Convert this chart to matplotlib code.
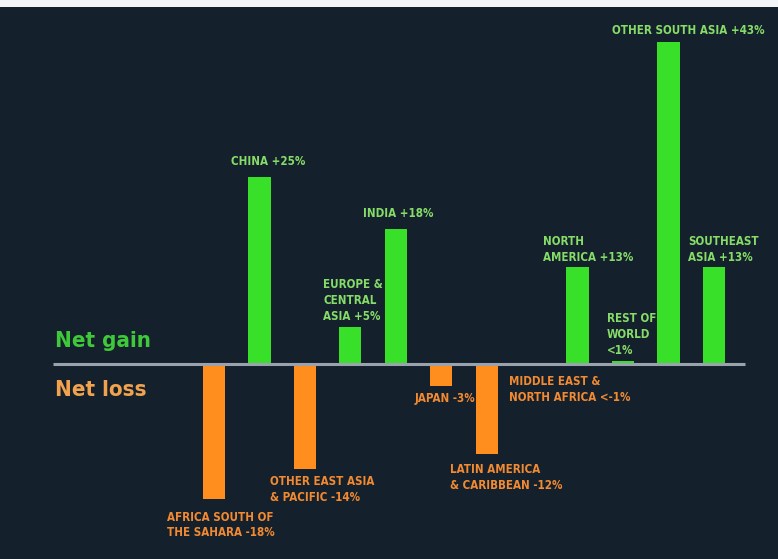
"""
Net change by region, drawn as diverging bars around a zero line
"""
import matplotlib.pyplot as plt
from matplotlib.patches import Rectangle

regions = ["AFRICA SOUTH OF\nTHE SAHARA -18%", "CHINA +25%", "OTHER EAST ASIA\n& PACIFIC -14%",
           "EUROPE &\nCENTRAL\nASIA +5%", "INDIA +18%", "JAPAN -3%",
           "LATIN AMERICA\n& CARIBBEAN -12%", "MIDDLE EAST &\nNORTH AFRICA <-1%",
           "NORTH\nAMERICA +13%", "REST OF\nWORLD\n<1%", "OTHER SOUTH ASIA +43%",
           "SOUTHEAST\nASIA +13%"]
change = [-18, 25, -14, 5, 18, -3, -12, -0.3, 13, 0.4, 43, 13]

# label placement: pixel offset from bar end, and horizontal alignment
label_dx = [-47, 9, -35, -27, 2, 4, -37, -23, -35, -16, 96, -26]
label_dy = [-12, 9, -6, 4, 9, -6, -9, -9, 3, 4, 5, 3]
label_ha = ["left", "center", "left", "left", "center", "center",
            "left", "left", "left", "left", "right", "left"]

BG = "#14202b"
GREEN = "#38e02a"
ORANGE = "#ff8e1e"
GREEN_TXT = "#86dc68"
ORANGE_TXT = "#f28a32"

plt.rcParams['font.family'] = ['DejaVu Sans']
plt.rcParams['font.stretch'] = 'condensed'

fig = plt.figure(figsize=(7.78, 5.59), dpi=100)
fig.patch.set_facecolor(BG)
# light strip along the top edge
fig.patches.append(Rectangle((0, 552 / 559), 1, 7 / 559, transform=fig.transFigure,
                             facecolor="#f4f5f6", edgecolor="none", zorder=5))

ax = fig.add_axes([0, 0, 1, 552 / 559])
ax.set_facecolor(BG)
px_bar, x0 = 45.45, 214
px_pct, base = 7.48, 364 - 7
ax.set_xlim(-x0 / px_bar, (778 - x0) / px_bar)
ax.set_ylim(-(552 - base) / px_pct, base / px_pct)
ax.axis("off")

xs = list(range(len(change)))
colors = [GREEN if v > 0 else ORANGE for v in change]
ax.bar(xs, change, width=0.49, color=colors, zorder=2)

# zero line
ax.plot([(53 - x0) / px_bar, (745 - x0) / px_bar], [0, 0], color="#9aa3ad",
        lw=2.2, zorder=3, solid_capstyle="butt")

for i, (lab, v) in enumerate(zip(regions, change)):
    up = v > 0
    ax.annotate(lab, xy=(i, v), xytext=(label_dx[i], label_dy[i]),
                textcoords="offset pixels", ha=label_ha[i],
                va="bottom" if up else "top",
                color=GREEN_TXT if up else ORANGE_TXT,
                fontsize=8.3, fontweight="bold", linespacing=1.28)

ax.text((55 - x0) / px_bar, 1.8, "Net gain", color="#3ec83a", fontsize=16,
        fontweight="bold", va="bottom", ha="left")
ax.text((55 - x0) / px_bar, -2.2, "Net loss", color="#f0a24e", fontsize=16,
        fontweight="bold", va="top", ha="left")

fig.savefig("out.png", dpi=100, facecolor=fig.get_facecolor())
